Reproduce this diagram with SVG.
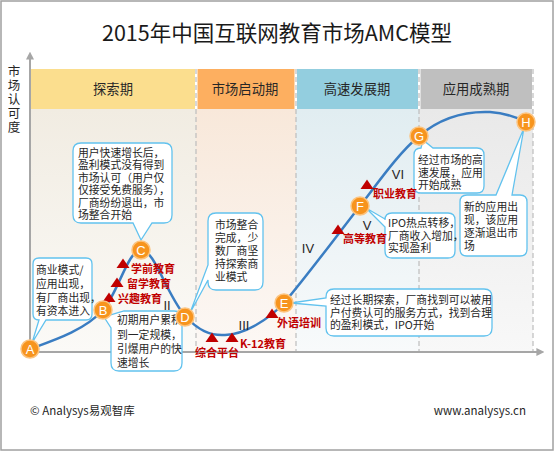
<svg xmlns="http://www.w3.org/2000/svg" width="554" height="451" viewBox="0 0 554 451">
<style>
text{font-family:"Noto Sans CJK SC","Noto Sans",sans-serif;}
.hdr{font-size:13.3px;fill:#262626;text-anchor:middle;}
.co{fill:#fff;stroke:#62C2EE;stroke-width:1.3;}
.ct{font-size:10.8px;fill:#262626;}
.lbl{font-size:11px;font-weight:bold;fill:#C00000;}
.tri{fill:#C00000;}
.rn{font-family:"Liberation Sans","Noto Sans",sans-serif;font-size:13px;fill:#262626;text-anchor:middle;}
.nd{fill:#F7941E;stroke:#FCC37E;stroke-width:1.5;}
.nl{font-family:"Liberation Sans","Noto Sans",sans-serif;font-size:13px;fill:#fff;text-anchor:middle;}
.dash{stroke:#BDBDBD;stroke-width:1.2;stroke-dasharray:5,3;fill:none;}
.ax{stroke:#A6A6A6;stroke-width:2;fill:none;}
.yl{font-size:12.5px;fill:#262626;text-anchor:middle;}
</style>
<defs>
<linearGradient id="g1" x1="0" y1="0" x2="0" y2="1"><stop offset="0" stop-color="#F1ECE2"/><stop offset="1" stop-color="#FBFAF7"/></linearGradient>
<linearGradient id="g2" x1="0" y1="0" x2="0" y2="1"><stop offset="0" stop-color="#F8E8DA"/><stop offset="1" stop-color="#FCF8F5"/></linearGradient>
<linearGradient id="g3" x1="0" y1="0" x2="0" y2="1"><stop offset="0" stop-color="#E1EDF1"/><stop offset="1" stop-color="#F8FAFB"/></linearGradient>
<linearGradient id="g4" x1="0" y1="0" x2="0" y2="1"><stop offset="0" stop-color="#E9E9E9"/><stop offset="1" stop-color="#F8F8F8"/></linearGradient>
<marker id="arr" viewBox="0 0 10 10" refX="2" refY="5" markerWidth="4" markerHeight="4" orient="auto"><path d="M0,0 L10,5 L0,10 Z" fill="#A6A6A6"/></marker>
<path id="tr" d="M0,-5.5 L6.5,4 L-6.5,4 Z"/>
</defs>
<rect x="1" y="1" width="552" height="449" fill="#fff" stroke="#A0A0A0" stroke-width="1.5"/>
<text x="277" y="41" font-size="21.5" fill="#1a1a1a" text-anchor="middle">2015年中国互联网教育市场AMC模型</text>

<g id="ylabel">
<text class="yl" x="14" y="75.5">市</text>
<text class="yl" x="14" y="89.5">场</text>
<text class="yl" x="14" y="103.5">认</text>
<text class="yl" x="14" y="117.5">可</text>
<text class="yl" x="14" y="131.5">度</text>
</g>

<g id="phases">
<rect x="30" y="109" width="166" height="243" fill="url(#g1)"/>
<rect x="196" y="109" width="100" height="243" fill="url(#g2)"/>
<rect x="296" y="109" width="123" height="243" fill="url(#g3)"/>
<rect x="419" y="109" width="114" height="243" fill="url(#g4)"/>
<g id="p1"><rect x="31" y="69" width="164" height="40" fill="#FBDE8E"/><text class="hdr" x="113" y="94">探索期</text></g>
<g id="p2"><rect x="197.5" y="69" width="97" height="40" fill="#FDAF60"/><text class="hdr" x="245" y="94">市场启动期</text></g>
<g id="p3"><rect x="297" y="69" width="121" height="40" fill="#93CEDF"/><text class="hdr" x="357" y="94">高速发展期</text></g>
<g id="p4"><rect x="420.5" y="69" width="111.5" height="40" fill="#BFBFBF"/><text class="hdr" x="476" y="94">应用成熟期</text></g>
<path class="dash" d="M196,69 V352 M296,69 V352 M419,69 V352 M533,69 V352"/>
</g>

<g id="axes">
<path class="ax" d="M30,352 V58" marker-end="url(#arr)"/>
<path class="ax" d="M29,352 H538" marker-end="url(#arr)"/>
</g>

<g id="connectors">
<path d="M30,349 C55,340 85,330 103,310 C118,293 128,250 141,250 C155,250 165,292 185,316 C198,330 210,336 225,335 C245,334 268,320 284,303 C310,272 335,238 360,206 C380,180 398,154 419,136 C440,118 465,111 490,112 C505,113 516,117 526,122" fill="none" stroke="#3A7DC2" stroke-width="2.5"/>
</g>

<g id="stages">
<text class="rn" x="167" y="310">II</text>
<text class="rn" x="244" y="330">III</text>
<text class="rn" x="308" y="253">IV</text>
<text class="rn" x="367" y="230">V</text>
<text class="rn" x="398" y="179">VI</text>
</g>

<g id="callouts">
<g id="callout-A"><path class="co" d="M39,258 H86 Q92,258 92,264 V314 Q92,320 86,320 H46 L32,343 L39,320 Q33,320 33,314 V264 Q33,258 39,258 Z"/>
<text class="ct"><tspan x="36" y="274">商业模式/</tspan><tspan x="36" y="288">应用出现，</tspan><tspan x="36" y="301.5">有厂商出现，</tspan><tspan x="36" y="315">有资本进入</tspan></text></g>
<g id="callout-C"><path class="co" d="M81,143 H164 Q172,143 172,151 V215 Q172,223 164,223 H152 L141,240 L133,223 H81 Q73,223 73,215 V151 Q73,143 81,143 Z"/>
<text class="ct"><tspan x="78" y="157">用户快速增长后，</tspan><tspan x="78" y="169.4">盈利模式没有得到</tspan><tspan x="78" y="181.8">市场认可（用户仅</tspan><tspan x="78" y="194.2">仅接受免费服务），</tspan><tspan x="78" y="206.6">厂商纷纷退出，市</tspan><tspan x="78" y="219">场整合开始</tspan></text></g>
<g id="callout-B"><path class="co" d="M124,311 H174 Q182,311 182,319 V363 Q182,371 174,371 H119 Q111,371 111,363 V328 L104,317 Z"/>
<text class="ct"><tspan x="117" y="324">初期用户累积</tspan><tspan x="117" y="338.5">到一定规模，</tspan><tspan x="117" y="353">引爆用户的快</tspan><tspan x="117" y="367">速增长</tspan></text></g>
<g id="callout-D"><path class="co" d="M216,213 H255 Q263,213 263,221 V282 Q263,290 255,290 H216 Q208,290 208,282 V280 L190,313 L208,265 V221 Q208,213 216,213 Z"/>
<text class="ct"><tspan x="215" y="229">市场整合</tspan><tspan x="215" y="242">完成，少</tspan><tspan x="215" y="255">数厂商坚</tspan><tspan x="215" y="268">持探索商</tspan><tspan x="215" y="281">业模式</tspan></text></g>
<g id="callout-E"><path class="co" d="M334,289 H484 Q492,289 492,297 V328 Q492,336 484,336 H334 Q326,336 326,328 V306 L291,303 L326,298 V297 Q326,289 334,289 Z"/>
<text class="ct"><tspan x="330" y="304">经过长期探索，厂商找到可以被用</tspan><tspan x="330" y="316.5">户付费认可的服务方式，找到合理</tspan><tspan x="330" y="329">的盈利模式，IPO开始</tspan></text></g>
<g id="callout-F"><path class="co" d="M392,213 H448 Q455,213 455,220 V251 Q455,258 448,258 H392 Q385,258 385,251 V227 L366,208 L385,219 V220 Q385,213 392,213 Z"/>
<text class="ct"><tspan x="388" y="227">IPO热点转移，</tspan><tspan x="388" y="239.5">厂商收入增加，</tspan><tspan x="388" y="252">实现盈利</tspan></text></g>
<g id="callout-G"><path class="co" d="M421,148 L423,140 L433,148 H477 Q484,148 484,155 V186 Q484,193 477,193 H421 Q414,193 414,186 V155 Q414,148 421,148 Z"/>
<text class="ct"><tspan x="418" y="164">经过市场的高</tspan><tspan x="418" y="176.5">速发展，应用</tspan><tspan x="418" y="189">开始成熟</tspan></text></g>
<g id="callout-H"><path class="co" d="M467,195 H496 L524,128 L512,195 H520 Q527,195 527,202 V249 Q527,256 520,256 H467 Q460,256 460,249 V202 Q460,195 467,195 Z"/>
<text class="ct"><tspan x="464" y="211">新的应用出</tspan><tspan x="464" y="224">现，该应用</tspan><tspan x="464" y="237">逐渐退出市</tspan><tspan x="464" y="250">场</tspan></text></g>
</g>

<g id="segments">
<g id="seg-xueqian"><use href="#tr" class="tri" x="123" y="264"/><text class="lbl" x="131" y="273">学前教育</text></g>
<g id="seg-liuxue"><use href="#tr" class="tri" x="117" y="283"/><text class="lbl" x="127" y="288">留学教育</text></g>
<g id="seg-xingqu"><use href="#tr" class="tri" x="109" y="298"/><text class="lbl" x="118" y="303">兴趣教育</text></g>
<g id="seg-zonghe"><use href="#tr" class="tri" x="212" y="338"/><text class="lbl" x="195" y="357">综合平台</text></g>
<g id="seg-k12"><use href="#tr" class="tri" x="232" y="338"/><text class="lbl" x="240" y="348">K-12教育</text></g>
<g id="seg-waiyu"><use href="#tr" class="tri" x="272" y="314"/><text class="lbl" x="277" y="327">外语培训</text></g>
<g id="seg-gaodeng"><use href="#tr" class="tri" x="338" y="230"/><text class="lbl" x="343" y="243">高等教育</text></g>
<g id="seg-zhiye"><use href="#tr" class="tri" x="367" y="185"/><text class="lbl" x="373" y="198">职业教育</text></g>
</g>

<g id="node-A"><circle class="nd" cx="30" cy="349" r="9"/><text class="nl" x="30" y="353.5">A</text></g>
<g id="node-B"><circle class="nd" cx="103" cy="310" r="9"/><text class="nl" x="103" y="314.5">B</text></g>
<g id="node-C"><circle class="nd" cx="141" cy="250" r="9"/><text class="nl" x="141" y="254.5">C</text></g>
<g id="node-D"><circle class="nd" cx="185" cy="317" r="9"/><text class="nl" x="185" y="321.5">D</text></g>
<g id="node-E"><circle class="nd" cx="284" cy="303" r="9"/><text class="nl" x="284" y="307.5">E</text></g>
<g id="node-F"><circle class="nd" cx="360" cy="206" r="9"/><text class="nl" x="360" y="210.5">F</text></g>
<g id="node-G"><circle class="nd" cx="419" cy="136" r="9"/><text class="nl" x="419" y="140.5">G</text></g>
<g id="node-H"><circle class="nd" cx="526" cy="122" r="9"/><text class="nl" x="526" y="126.5">H</text></g>

<g id="footer">
<text x="30" y="415" font-size="11.5" fill="#262626">© Analysys易观智库</text>
<text x="526" y="415" font-size="11.5" fill="#262626" text-anchor="end">www.analysys.cn</text>
</g>
</svg>
